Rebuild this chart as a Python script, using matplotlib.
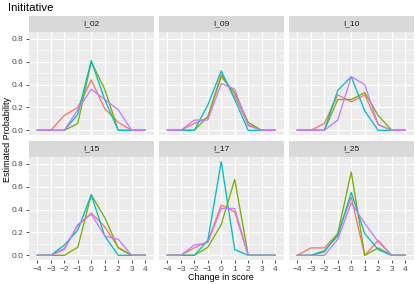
import matplotlib
matplotlib.use("Agg")
import matplotlib.pyplot as plt
import numpy as np

plt.rcParams['font.family'] = ['Liberation Sans', 'DejaVu Sans']

change = [-4, -3, -2, -1, 0, 1, 2, 3, 4]
panels = ["I_02", "I_09", "I_10", "I_15", "I_17", "I_25"]
series_colors = ["#F8766D", "#7CAE00", "#00BFC4", "#C77CFF"]

# probabilities per panel, per series (red, green, cyan, purple)
I_02 = [
    [0, 0, 0.13, 0.20, 0.44, 0.19, 0.07, 0, 0],
    [0, 0, 0, 0.06, 0.60, 0.36, 0, 0, 0],
    [0, 0, 0, 0.14, 0.61, 0.27, 0, 0, 0],
    [0, 0, 0, 0.18, 0.36, 0.27, 0.18, 0, 0],
]
I_09 = [
    [0, 0, 0.06, 0.11, 0.49, 0.30, 0.05, 0, 0],
    [0, 0, 0, 0.12, 0.47, 0.33, 0.07, 0, 0],
    [0, 0, 0, 0.22, 0.52, 0.27, 0, 0, 0],
    [0, 0, 0.09, 0.09, 0.41, 0.36, 0.04, 0, 0],
]
I_10 = [
    [0, 0, 0.06, 0.31, 0.25, 0.31, 0.05, 0, 0],
    [0, 0, 0, 0.27, 0.27, 0.33, 0.13, 0, 0],
    [0, 0, 0, 0.35, 0.47, 0.17, 0, 0, 0],
    [0, 0, 0, 0.09, 0.47, 0.40, 0.05, 0, 0],
]
I_15 = [
    [0, 0, 0.06, 0.26, 0.37, 0.25, 0.07, 0, 0],
    [0, 0, 0, 0.07, 0.53, 0.33, 0.065, 0, 0],
    [0, 0, 0.09, 0.22, 0.53, 0.17, 0, 0, 0],
    [0, 0, 0.05, 0.27, 0.36, 0.17, 0.14, 0, 0],
]
I_17 = [
    [0, 0, 0.065, 0.12, 0.44, 0.38, 0, 0, 0],
    [0, 0, 0, 0.07, 0.27, 0.665, 0, 0, 0],
    [0, 0, 0, 0.13, 0.82, 0.05, 0, 0, 0],
    [0, 0, 0.09, 0.11, 0.41, 0.41, 0, 0, 0],
]
I_25 = [
    [0, 0.065, 0.065, 0.19, 0.51, 0, 0.13, 0, 0],
    [0, 0, 0.03, 0.19, 0.73, 0, 0.065, 0, 0],
    [0, 0, 0.04, 0.17, 0.55, 0.19, 0.05, 0, 0],
    [0, 0, 0, 0.14, 0.46, 0.28, 0.12, 0, 0],
]
panel_data = [I_02, I_09, I_10, I_15, I_17, I_25]

W, H = 415, 284
fig = plt.figure(figsize=(W / 100, H / 100), dpi=100)

lefts = [29, 159, 289]
pw = 124.5
strip_tops = [16, 141]
sh = 16
ph = 103

for idx, name in enumerate(panels):
    r, c = divmod(idx, 3)
    x0 = lefts[c]
    st = strip_tops[r]
    ptop = st + sh
    ax = fig.add_axes([x0 / W, 1 - (ptop + ph) / H, pw / W, ph / H])
    ax.set_facecolor("#EBEBEB")
    for s in ax.spines.values():
        s.set_visible(False)
    ax.set_xlim(-4.62, 4.62)
    ax.set_ylim(-0.041, 0.861)
    ax.set_xticks(change)
    ax.set_yticks([0, 0.2, 0.4, 0.6, 0.8])
    ax.set_yticks([0.1, 0.3, 0.5, 0.7], minor=True)
    ax.grid(True, which="major", color="white", linewidth=0.9)
    ax.grid(True, which="minor", axis="y", color="white", linewidth=0.45)
    ax.tick_params(which="minor", length=0)
    ax.set_axisbelow(True)
    ax.tick_params(which="major", length=2.5, width=0.6, color="#333333",
                   labelsize=6, labelcolor="#4D4D4D", pad=1.5)
    if c == 0:
        ax.set_yticklabels(["0.0", "0.2", "0.4", "0.6", "0.8"])
    else:
        ax.tick_params(axis="y", which="major", length=0, labelleft=False)
    if r == 1:
        ax.set_xticklabels(["\u22124", "\u22123", "\u22122", "\u22121", "0", "1", "2", "3", "4"])
    else:
        ax.tick_params(axis="x", which="major", length=0, labelbottom=False)
    for vals, col in zip(panel_data[idx], series_colors):
        ax.plot(change, vals, color=col, linewidth=0.95)
    # strip
    sax = fig.add_axes([x0 / W, 1 - (st + sh) / H, pw / W, sh / H])
    sax.set_facecolor("#D9D9D9")
    sax.set_xticks([])
    sax.set_yticks([])
    for s in sax.spines.values():
        s.set_visible(False)
    sax.text(0.5, 0.5, name, ha="center", va="center", fontsize=6,
             color="#1A1A1A", transform=sax.transAxes)

fig.text(8 / W, 1 - 11 / H, "Inititative", fontsize=8.2, color="black",
         ha="left", va="baseline")
fig.text((29 + 413) / 2 / W, 1 - 278 / H, "Change in score", fontsize=6.5,
         ha="center", va="center", color="black")
fig.text(7.5 / W, 1 - 139 / H, "Estimated Probability", fontsize=6.5,
         ha="center", va="center", rotation=90, color="black")

fig.savefig("out.png", dpi=100)
